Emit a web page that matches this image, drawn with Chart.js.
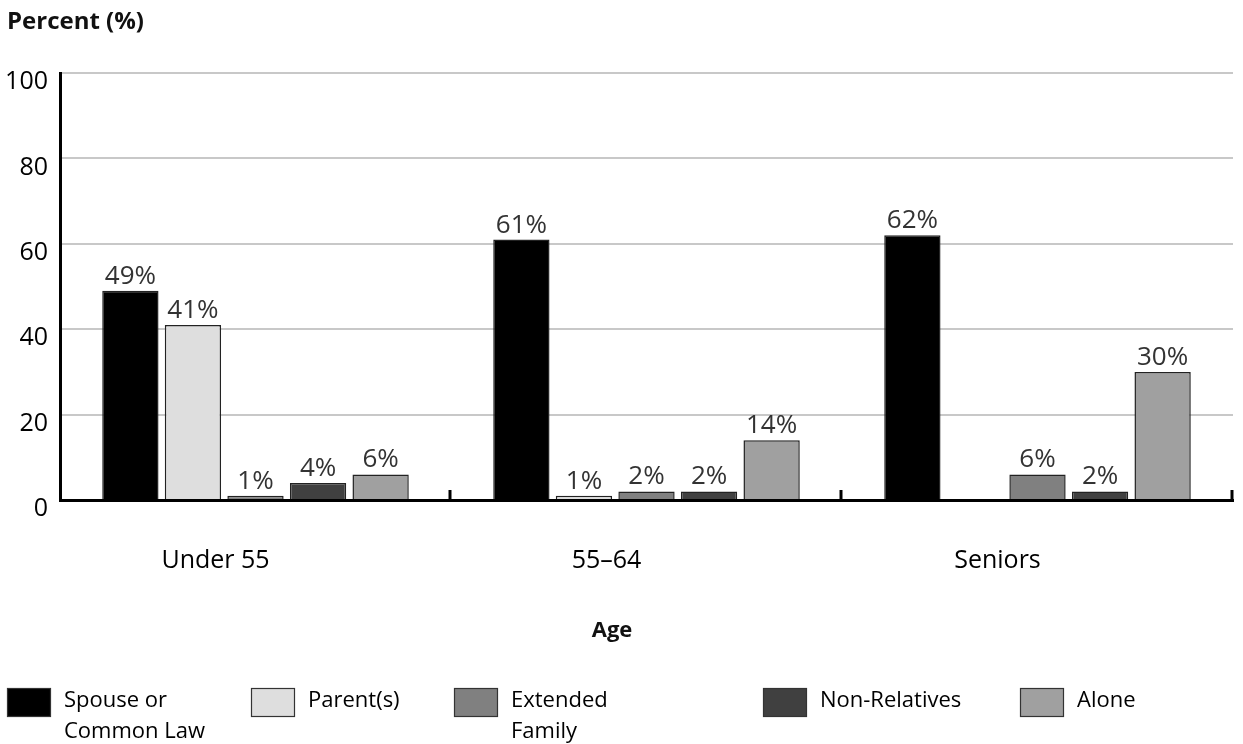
<!DOCTYPE html>
<html>
<head>
<meta charset="utf-8">
<script src="https://cdn.jsdelivr.net/npm/chart.js@4.4.1/dist/chart.umd.min.js"></script>
<style>
  html, body { margin: 0; padding: 0; background: #fff; }
  #wrap { width: 1243px; height: 744px; }
</style>
</head>
<body>
<div id="wrap"><canvas id="chart" width="1243" height="744"></canvas></div>
<script>
// Living arrangements by age group, percent of each group
const ageGroups = ['Under 55', '55\u201364', 'Seniors'];
const seriesNames = [['Spouse or', 'Common Law'], ['Parent(s)'], ['Extended', 'Family'], ['Non-Relatives'], ['Alone']];
const spouseValues = [49, 61, 62];
const parentValues = [41, 1, null];
const extendedValues = [1, 2, 6];
const nonRelativeValues = [4, 2, 2];
const aloneValues = [6, 14, 30];
const yTickValues = [0, 20, 40, 60, 80, 100];

const seriesValues = [spouseValues, parentValues, extendedValues, nonRelativeValues, aloneValues];
const seriesColors = ['#000000', '#dedede', '#808080', '#404040', '#a0a0a0'];

const FONT = '"Open Sans", "Noto Sans", sans-serif';

// Legend item left edges along the bottom row
const legendX = [7, 251, 454, 763, 1020];

const datasets = seriesValues.map((vals, i) => ({
  label: seriesNames[i].join(' '),
  data: vals,
  backgroundColor: seriesColors[i],
  borderColor: '#222222',
  borderWidth: 1.5,
  borderSkipped: 'bottom',
  categoryPercentage: 0.8,
  barPercentage: 0.9
}));

// Percent labels above each bar
const valueLabels = {
  id: 'valueLabels',
  afterDatasetsDraw(chart) {
    const ctx = chart.ctx;
    ctx.save();
    ctx.font = '26px ' + FONT;
    ctx.fillStyle = '#333333';
    ctx.textAlign = 'center';
    ctx.textBaseline = 'alphabetic';
    chart.data.datasets.forEach((ds, di) => {
      const meta = chart.getDatasetMeta(di);
      meta.data.forEach((bar, i) => {
        const v = ds.data[i];
        if (v === null || v === undefined) return;
        ctx.fillText(v + '%', bar.x, bar.y - 7);
      });
    });
    ctx.restore();
  }
};

// Short upward tick marks on the x axis at group boundaries
const groupTicks = {
  id: 'groupTicks',
  afterDraw(chart) {
    const area = chart.chartArea;
    const ctx = chart.ctx;
    ctx.save();
    ctx.strokeStyle = '#000';
    ctx.lineWidth = 3;
    const n = chart.data.labels.length;
    const step = (area.right - area.left) / n;
    for (let i = 1; i <= n; i++) {
      const px = Math.round(area.left + step * i) - 1;
      ctx.beginPath();
      ctx.moveTo(px, area.bottom);
      ctx.lineTo(px, area.bottom - 10);
      ctx.stroke();
    }
    ctx.restore();
  }
};

// Axis titles and the legend
const decorations = {
  id: 'decorations',
  afterDraw(chart) {
    const ctx = chart.ctx;
    ctx.save();
    ctx.fillStyle = '#111';
    ctx.textBaseline = 'middle';
    ctx.font = 'bold 24px ' + FONT;
    ctx.textAlign = 'left';
    ctx.fillText('Percent (%)', 7, 22);
    ctx.font = 'bold 22px ' + FONT;
    ctx.textAlign = 'center';
    ctx.fillText('Age', 612, 631);

    ctx.font = '22px ' + FONT;
    ctx.textAlign = 'left';
    seriesNames.forEach((lines, i) => {
      const bx = legendX[i];
      ctx.fillStyle = seriesColors[i];
      ctx.fillRect(bx, 688, 43, 28);
      ctx.strokeStyle = '#333';
      ctx.lineWidth = 1.2;
      ctx.strokeRect(bx + 0.5, 688.5, 43, 28);
      ctx.fillStyle = '#000';
      lines.forEach((t, li) => ctx.fillText(t, bx + 57, 701 + li * 31));
    });
    ctx.restore();
  }
};

new Chart(document.getElementById('chart'), {
  type: 'bar',
  data: { labels: ageGroups, datasets },
  plugins: [valueLabels, groupTicks, decorations],
  options: {
    responsive: false,
    animation: false,
    layout: { padding: { top: 73, right: 10, left: 0, bottom: 0 } },
    plugins: { legend: { display: false }, tooltip: { enabled: false } },
    scales: {
      x: {
        grid: { display: false, drawTicks: false },
        border: { display: true, color: '#000', width: 3 },
        ticks: { color: '#000', font: { family: FONT, size: 25 }, padding: 46, labelOffset: -40 },
        afterFit(scale) { scale.height = 244; }
      },
      y: {
        min: 0,
        max: 100,
        afterBuildTicks(scale) { scale.ticks = yTickValues.map(v => ({ value: v })); },
        grid: { color: '#c8c8c8', lineWidth: 2, drawTicks: false },
        border: { display: true, color: '#000', width: 3 },
        ticks: { color: '#000', font: { family: FONT, size: 25 }, padding: 12, labelOffset: 9 },
        afterFit(scale) { scale.width = 60; }
      }
    }
  }
});
</script>
</body>
</html>
